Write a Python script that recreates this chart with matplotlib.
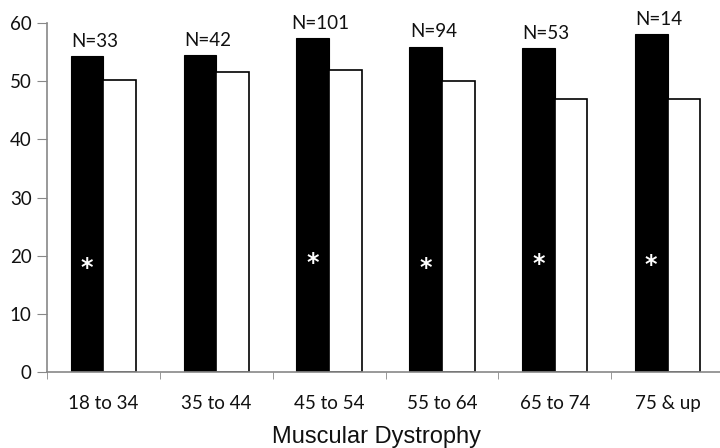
import matplotlib
matplotlib.use("Agg")
import matplotlib.pyplot as plt
import numpy as np

categories = ["18 to 34", "35 to 44", "45 to 54", "55 to 64", "65 to 74", "75 & up"]
black_vals = [54.3, 54.5, 57.5, 56.0, 55.7, 58.2]
white_vals = [50.3, 51.6, 52.0, 50.0, 46.9, 47.0]
n_labels = ["N=33", "N=42", "N=101", "N=94", "N=53", "N=14"]
star_flags = [True, False, True, True, True, True]
star_y = [17.8, 0, 18.8, 17.8, 18.6, 18.4]
xlabel = "Muscular Dystrophy"

fig = plt.figure(figsize=(7.2, 4.48), dpi=100)
ax = fig.add_axes([47/720, 76.3/448, (724-47)/720, (371.7-23.3)/448])

x = np.arange(len(categories))
w = 0.29
ax.bar(x - w/2, black_vals, w, color="black", edgecolor="black", linewidth=0.8)
ax.bar(x + w/2, white_vals, w, color="white", edgecolor="black", linewidth=1.2)

for i in range(len(categories)):
    ax.annotate(n_labels[i], (x[i] - w/2 + 0.07, black_vals[i]), xytext=(0, 4.5),
                textcoords="offset points", ha="center", va="bottom",
                fontsize=13.5, family="Lato", color="#111111")
    if star_flags[i]:
        ax.text(x[i] - w/2, star_y[i], "*", ha="center", va="center",
                color="white", fontsize=17, fontweight="bold", family="DejaVu Sans")

ax.set_xlim(-0.5, len(categories) - 0.5)
ax.set_ylim(0, 60)
ax.set_yticks(range(0, 61, 10))
ax.set_xticks(x)
ax.set_xticklabels(categories, fontsize=13.5, family="Lato", color="#111111")
ax.set_xticks(np.arange(-0.5, len(categories), 1.0), minor=True)
ax.tick_params(axis="x", which="major", length=0, pad=17)
ax.tick_params(axis="x", which="minor", length=5, color="#888888", direction="out")
ax.tick_params(axis="y", length=7, color="#888888", labelsize=13.5, pad=4, labelcolor="#111111")
for lab in ax.get_yticklabels():
    lab.set_family("Lato")

for s in ["top", "right"]:
    ax.spines[s].set_visible(False)
for s in ["left", "bottom"]:
    ax.spines[s].set_color("#888888")
    ax.spines[s].set_linewidth(1.2)

fig.text(376/720, 1 - 437/448, xlabel, ha="center", va="center",
         fontsize=17, family="Liberation Sans", color="#111111")

fig.savefig("out.png", dpi=100)
